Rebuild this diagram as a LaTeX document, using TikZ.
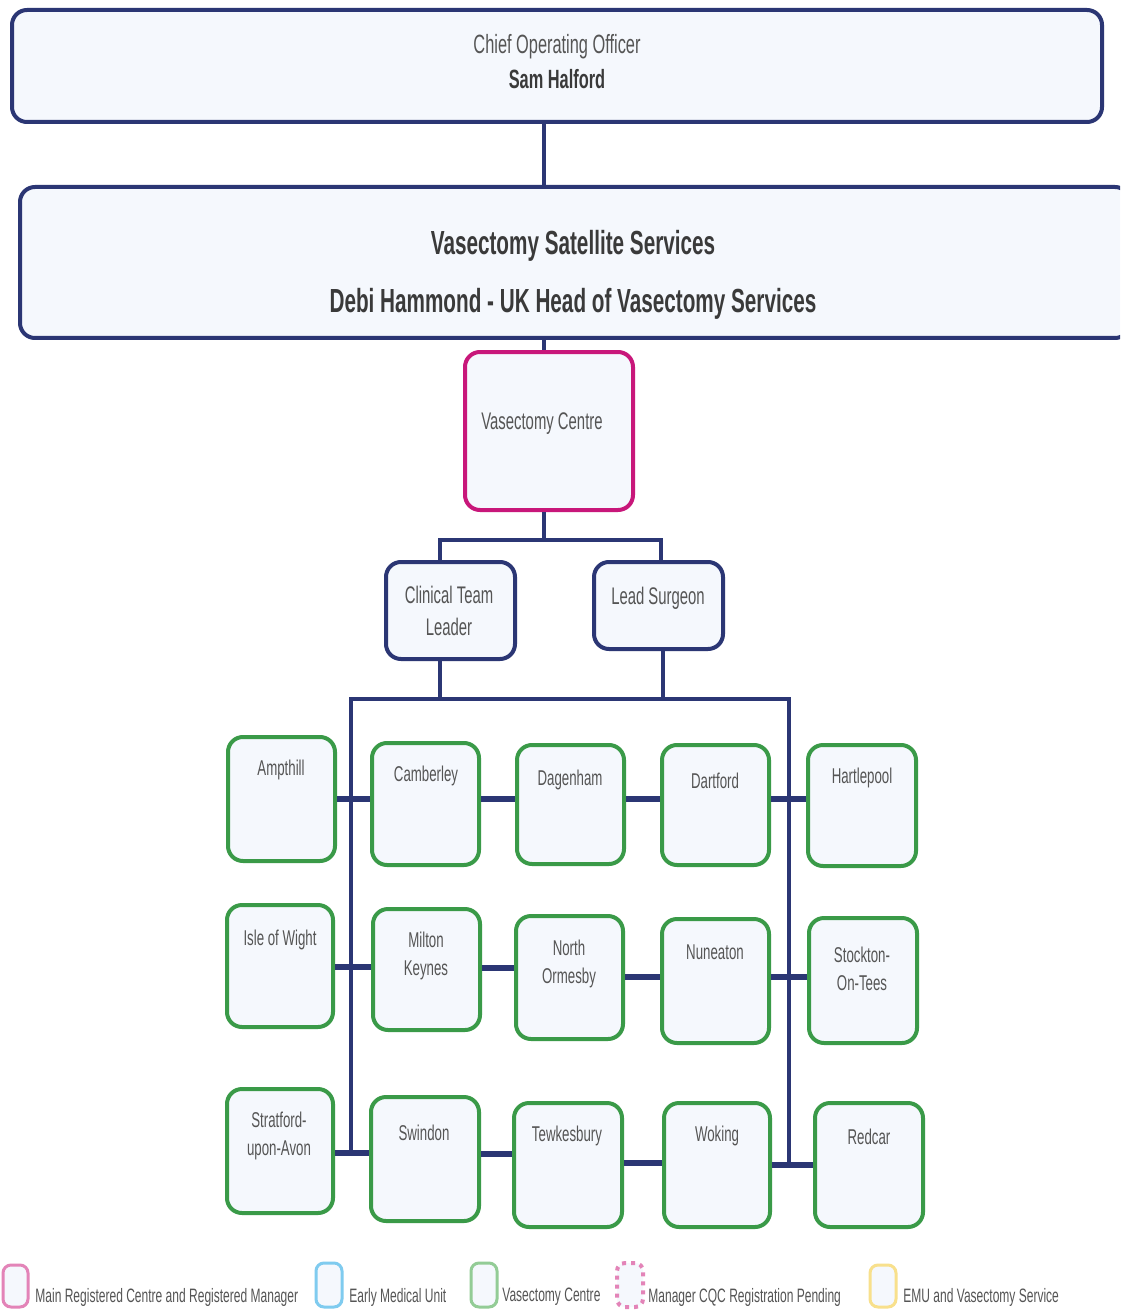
\documentclass[tikz,border=0pt]{standalone}
\usepackage{fontspec}
\setmainfont{Liberation Sans}[FakeStretch=0.62]
\usetikzlibrary{fit}
\definecolor{navy}{HTML}{2B3674}
\definecolor{boxfill}{HTML}{F5F8FD}
\definecolor{vcmag}{HTML}{C8177A}
\definecolor{vgreen}{HTML}{3A9A48}
\definecolor{txtgray}{HTML}{555555}
\definecolor{txtdark}{HTML}{3A3A3A}
\definecolor{lgpink}{HTML}{E384B8}
\definecolor{lgblue}{HTML}{7FCBEF}
\definecolor{lggreen}{HTML}{93CC96}
\definecolor{lgyellow}{HTML}{F8E08C}
\tikzset{
  box/.style={draw=navy, line width=2pt, rounded corners=7.5pt, fill=boxfill, inner sep=0pt},
  gbox/.style={box, draw=vgreen},
  mbox/.style={box, draw=vcmag},
  lgbox/.style={line width=1.5pt, rounded corners=4pt, fill=boxfill, inner sep=0pt},
  lbl/.style={text=txtgray, align=center, inner sep=0pt, yshift=-1.2pt, font=\fontsize{10.7pt}{14pt}\selectfont},
  midlbl/.style={lbl, font=\fontsize{12pt}{16pt}\selectfont},
  toplbl/.style={lbl, font=\fontsize{13.2pt}{16pt}\selectfont},
  boldlbl/.style={lbl, text=txtdark, font=\fontsize{13.2pt}{16pt}\selectfont\bfseries},
  biglbl/.style={lbl, text=txtdark, font=\fontsize{16.7pt}{20pt}\selectfont\bfseries},
  lgtxt/.style={text=txtgray, inner sep=0pt, anchor=west, yshift=-0.6pt, font=\fontsize{9.7pt}{12pt}\selectfont},
  conn/.style={draw=navy, line width=1.6pt},
  hconn/.style={draw=navy, line width=3pt},
}
\begin{document}
\begin{tikzpicture}[x=0.5pt, y=-0.5pt]
\clip (0,0) rectangle (1120,1310);
\fill[white] (0,0) rectangle (1120,1310);

\node[box, fit={(12,10) (1102,122)}] (top) {};
\node[box, fit={(20,187) (1130,338)}] (sat) {};
\node[mbox, fit={(465,352) (633,510)}] (vc) {};
\node[box, fit={(386,562) (515,659)}] (ctl) {};
\node[box, fit={(594,562) (723,649)}] (ls) {};

\node[gbox, fit={(228,737) (335,861)}] (amp) {};
\node[gbox, fit={(372,743) (479,865)}] (cam) {};
\node[gbox, fit={(517,745) (624,864)}] (dag) {};
\node[gbox, fit={(662,745) (769,865)}] (dar) {};
\node[gbox, fit={(808,745) (916,866)}] (har) {};

\node[gbox, fit={(227,905) (333,1027)}] (iow) {};
\node[gbox, fit={(373,909) (480,1030)}] (mk) {};
\node[gbox, fit={(516,916) (623,1039)}] (no) {};
\node[gbox, fit={(662,919) (769,1043)}] (nun) {};
\node[gbox, fit={(809,918) (917,1043)}] (sto) {};

\node[gbox, fit={(227,1089) (333,1213)}] (str) {};
\node[gbox, fit={(371,1097) (479,1221)}] (swi) {};
\node[gbox, fit={(514,1103) (622,1227)}] (tew) {};
\node[gbox, fit={(664,1103) (770,1227)}] (wok) {};
\node[gbox, fit={(815,1103) (923,1227)}] (red) {};

% connectors
\draw[conn] (top.south -| 544,0) -- (sat.north -| 544,0);
\draw[conn] (sat.south -| 544,0) -- (vc.north -| 544,0);
\draw[conn] (vc.south -| 544,0) -- (544,540);
\draw[conn] (ctl.north -| 440,0) -- (440,540) -- (661,540) -- (ls.north -| 661,0);
\draw[conn] (ctl.south -| 440,0) -- (440,699);
\draw[conn] (ls.south -| 663,0) -- (663,699);
\draw[conn] (351,1153) -- (351,699) -- (789,699) -- (789,1165);

\draw[hconn] (amp.east |- 0,799) -- (cam.west |- 0,799);
\draw[hconn] (cam.east |- 0,799) -- (dag.west |- 0,799);
\draw[hconn] (dag.east |- 0,799) -- (dar.west |- 0,799);
\draw[hconn] (dar.east |- 0,799) -- (har.west |- 0,799);

\draw[hconn] (iow.east |- 0,967) -- (mk.west |- 0,967);
\draw[hconn] (mk.east |- 0,968) -- (no.west |- 0,968);
\draw[hconn] (no.east |- 0,977) -- (nun.west |- 0,977);
\draw[hconn] (nun.east |- 0,977) -- (sto.west |- 0,977);

\draw[hconn] (str.east |- 0,1153) -- (swi.west |- 0,1153);
\draw[hconn] (swi.east |- 0,1154) -- (tew.west |- 0,1154);
\draw[hconn] (tew.east |- 0,1163) -- (wok.west |- 0,1163);
\draw[hconn] (wok.east |- 0,1165) -- (red.west |- 0,1165);

% labels
\node[toplbl] (t-coo) at (557,44) {Chief Operating Officer};
\node[boldlbl] (t-sam) at (557,77) {Sam Halford};
\node[biglbl] (t-vss) at (573,243) {Vasectomy Satellite Services};
\node[biglbl] (t-debi) at (573,301) {Debi Hammond - UK Head of Vasectomy Services};
\node[midlbl] (t-vc) at (542,421) {Vasectomy Centre};
\node[midlbl] (t-ctl) at (449,609) {Clinical Team\\Leader};
\node[midlbl] (t-ls) at (658,596) {Lead Surgeon};

\node[lbl] (t-amp) at (281,768) {Ampthill};
\node[lbl] (t-cam) at (426,774) {Camberley};
\node[lbl] (t-dag) at (570,778) {Dagenham};
\node[lbl] (t-dar) at (715,778) {Dartford};
\node[lbl] (t-har) at (862,776) {Hartlepool};

\node[lbl] (t-iow) at (280,938) {Isle of Wight};
\node[lbl] (t-mk) at (426,954) {Milton\\Keynes};
\node[lbl] (t-no) at (569,962) {North\\Ormesby};
\node[lbl] (t-nun) at (715,950) {Nuneaton};
\node[lbl] (t-sto) at (862,966) {Stockton-\\On-Tees};

\node[lbl] (t-str) at (279,1134) {Stratford-\\upon-Avon};
\node[lbl] (t-swi) at (424,1130) {Swindon};
\node[lbl] (t-tew) at (567,1134) {Tewkesbury};
\node[lbl] (t-wok) at (717,1134) {Woking};
\node[lbl] (t-red) at (869,1134) {Redcar};

% legend
\node[lgbox, draw=lgpink, fit={(3,1265) (28,1307)}] (lg1) {};
\node[lgtxt] (lt1) at (35,1296) {Main Registered Centre and Registered Manager};
\node[lgbox, draw=lgblue, fit={(316,1263) (342,1307)}] (lg2) {};
\node[lgtxt] (lt2) at (349,1296) {Early Medical Unit};
\node[lgbox, draw=lggreen, fit={(471,1263) (497,1307)}] (lg3) {};
\node[lgtxt] (lt3) at (502,1296) {Vasectomy Centre};
\node[lgbox, draw=lgpink, line width=2pt, dash pattern=on 2pt off 2.5pt, fit={(617,1263) (643,1307)}] (lg4) {};
\node[lgtxt] (lt4) at (648,1296) {Manager CQC Registration Pending};
\node[lgbox, draw=lgyellow, fit={(870,1265) (896,1307)}] (lg5) {};
\node[lgtxt] (lt5) at (903,1296) {EMU and Vasectomy Service};
\end{tikzpicture}
\end{document}
